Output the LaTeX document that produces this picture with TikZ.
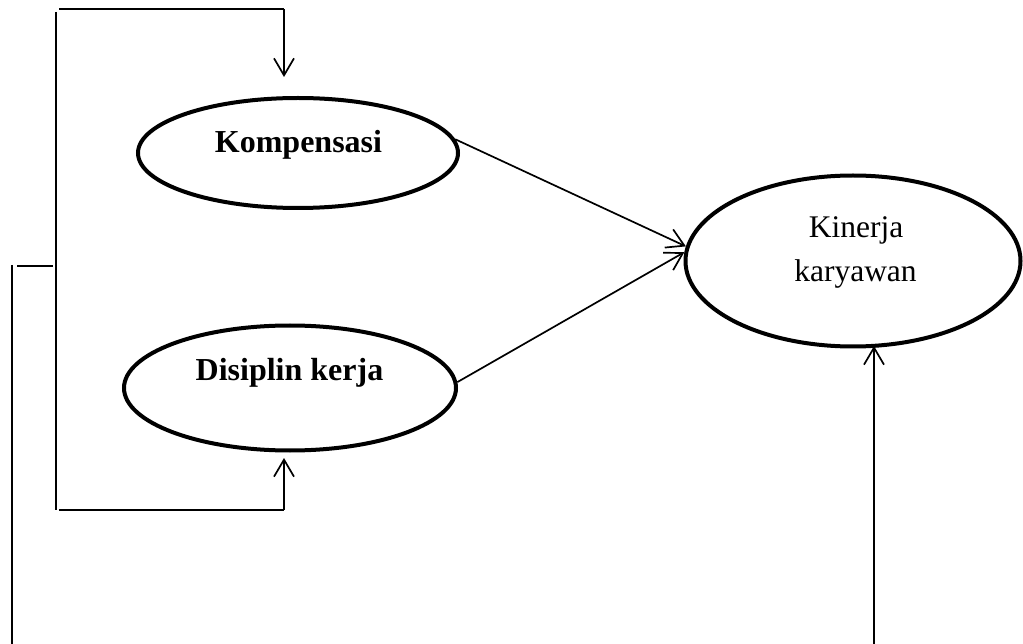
\documentclass[tikz,border=0pt]{standalone}
\usepackage{fontspec}
\setmainfont{Liberation Serif}
\usetikzlibrary{shapes.geometric,arrows.meta}
\tikzset{
  oval/.style={draw, ellipse, line width=4pt, inner sep=0pt},
  thin line/.style={line width=1.7pt},
  arr/.style={thin line, -{Straight Barb[length=17pt,width=20pt,line width=1.7pt]}},
  boldtxt/.style={font=\fontsize{32}{40}\selectfont\bfseries, anchor=base, inner sep=0pt},
  regtxt/.style={font=\fontsize{31.5}{40}\selectfont, anchor=base, inner sep=0pt}
}
\begin{document}
\begin{tikzpicture}[x=1pt,y=-1pt]
\useasboundingbox (0,0) rectangle (1023,644);
% ellipses
\node[oval, minimum width=320pt, minimum height=110pt] (komp) at (298,153) {};
\node[oval, minimum width=332pt, minimum height=125pt] (dis) at (290,388) {};
\node[oval, minimum width=335pt, minimum height=171pt] (kin) at (853,261) {};
% texts
\node[boldtxt] (kompT) at (298.5,153) {Kompensasi};
\node[boldtxt] (disT) at (289.5,381) {Disiplin kerja};
\node[regtxt] (kinT1) at (856,238) {Kinerja};
\node[regtxt] (kinT2) at (855.5,282) {karyawan};
% arrows to Kinerja
\draw[arr] (komp.5) -- (kin.175);
\draw[arr] (dis.2) -- (kin.177.5);
% bracket coordinates
\coordinate (tl) at (59,9);
\coordinate (tr) at (284,9);
\coordinate (ttip) at (284,77);
\coordinate (lv1) at (56,12);
\coordinate (lv2) at (56,510);
\coordinate (bl) at (59,510);
\coordinate (br) at (284,510);
\coordinate (btip) at (284,458);
\coordinate (m1) at (17,266);
\coordinate (m2) at (53,266);
\coordinate (ll1) at (12,265);
\coordinate (ll2) at (12,644);
\coordinate (rb) at (874,644);
\coordinate (rtip) at (874,346);
\draw[thin line] (tl) -- (tr);
\draw[arr] (tr) -- (ttip);
\draw[thin line] (lv1) -- (lv2);
\draw[thin line] (bl) -- (br);
\draw[arr] (br) -- (btip);
\draw[thin line] (m1) -- (m2);
\draw[thin line] (ll1) -- (ll2);
\draw[arr] (rb) -- (rtip);
\end{tikzpicture}
\end{document}
